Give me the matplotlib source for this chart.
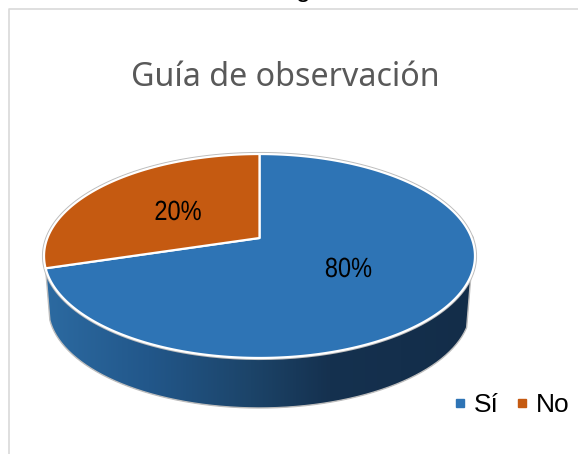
import numpy as np
import matplotlib
matplotlib.use("Agg")
import matplotlib.pyplot as plt
from matplotlib.colors import LinearSegmentedColormap
from matplotlib.lines import Line2D
from matplotlib.patches import Polygon
from matplotlib.patheffects import AbstractPathEffect
from matplotlib.transforms import Affine2D

# Data: the drawn slices do not follow the printed percentages in the picture
categories = ["Sí", "No"]
slice_shares = [70.3, 29.7]
slice_labels = ["80%", "20%"]
slice_colors = ["#2E74B5", "#C55A11"]
chart_title = "Guía de observación"

# Projection of the tilted disc, in pixels
CX, CY = 259.5, 238.0
RX, RY = 212.1, 98.8
K = 0.1765
DEPTH = 52.4
BOTTOM_SCALE = 0.98


def project(deg, scale=1.0, drop=0.0):
    a = np.radians(deg)
    u, v = np.cos(a), np.sin(a)
    w = 1 + K * v
    return np.column_stack(
        [CX + scale * RX * u / w, CY + drop - scale * RY * v / w]
    )


class SqueezeX(AbstractPathEffect):
    # narrows a text around a display x, there is no narrow Arial installed
    def __init__(self, x_display, factor):
        super().__init__()
        self.x_display = x_display
        self.factor = factor

    def draw_path(self, renderer, gc, tpath, affine, rgbFace=None):
        squeeze = Affine2D().translate(-self.x_display, 0).scale(self.factor, 1)
        squeeze = squeeze.translate(self.x_display, 0)
        renderer.draw_path(gc, tpath, affine + squeeze, rgbFace)


fig = plt.figure(figsize=(5.78, 4.54), dpi=100)
ax = fig.add_axes([0, 0, 1, 1])
ax.set_xlim(0, 578)
ax.set_ylim(454, 0)
ax.axis("off")

# Chart frame, open to the right and bottom of the crop
ax.plot([9, 9, 578], [454, 9, 9], color="#D9D9D9", lw=1.2)

# Wedge angles, counter-clockwise from twelve o'clock, "No" first
no_end = 90 + 360 * slice_shares[1] / sum(slice_shares)
side_start = no_end
side_end = 339

# Side wall with a horizontal gradient
top_arc = project(np.linspace(side_start, side_end, 200))
bottom_arc = project(np.linspace(side_end, side_start, 200), BOTTOM_SCALE, DEPTH)
side_pts = np.vstack([top_arc, bottom_arc])
side = Polygon(side_pts, closed=True, fc="none", ec="none")
ax.add_patch(side)
side_cmap = LinearSegmentedColormap.from_list(
    "side",
    [(0.0, "#2C6AA1"), (0.24, "#22578A"), (0.48, "#1C4469"), (0.665, "#15314F"), (1.0, "#132D49")],
)
grad = ax.imshow(
    np.linspace(0, 1, 256).reshape(1, -1),
    extent=(46, 473, 420, 260),
    cmap=side_cmap,
    aspect="auto",
    zorder=2,
)
grad.set_clip_path(side)
ax.set_xlim(0, 578)
ax.set_ylim(454, 0)
ax.plot(*np.vstack([top_arc[:1], bottom_arc[::-1], top_arc[-1:]]).T,
        color="#BDBDBD", lw=1.0, zorder=2.5)

# Top face
rim = project(np.linspace(0, 360, 400))
ax.plot(rim[:, 0], rim[:, 1], color="#BDBDBD", lw=3.0, zorder=2.6)

centre = np.array([[CX, CY]])
no_pts = np.vstack([centre, project(np.linspace(90, no_end, 200))])
si_pts = np.vstack([centre, project(np.linspace(no_end, 450, 300))])
for pts, color in zip([si_pts, no_pts], slice_colors):
    ax.add_patch(Polygon(pts, closed=True, fc=color, ec="white", lw=1.6,
                         joinstyle="round", zorder=3))

# Text
ax.text(285.5, 77, chart_title, ha="center", va="center", color="#595959",
        fontsize=23.2, family="Noto Sans", zorder=5)
for label, x, y in zip(slice_labels, [348.5, 178], [270, 213]):
    t = ax.text(x, y, label, ha="center", va="center", color="black",
                fontsize=20, family="Liberation Sans", zorder=5)
    t.set_path_effects([SqueezeX(ax.transData.transform((x, y))[0], 0.85)])
# descender of a line of the surrounding page, cut by the crop
ax.text(303, 3, "g", ha="center", va="baseline", color="black",
        fontsize=19, family="Liberation Sans", zorder=5).set_y(-3)

handles = [
    Line2D([], [], ls="none", marker="s", ms=5.8, color=c, label=n)
    for c, n in zip(slice_colors, categories)
]
ax.legend(handles=handles, loc="center right", bbox_to_anchor=(569 / 578, 1 - 405 / 454),
          ncol=2, frameon=False, handletextpad=0.05, columnspacing=0.45,
          borderpad=0, borderaxespad=0, handlelength=0.9,
          prop={"family": "Liberation Sans", "size": 19})

fig.savefig("out.png", dpi=100)
